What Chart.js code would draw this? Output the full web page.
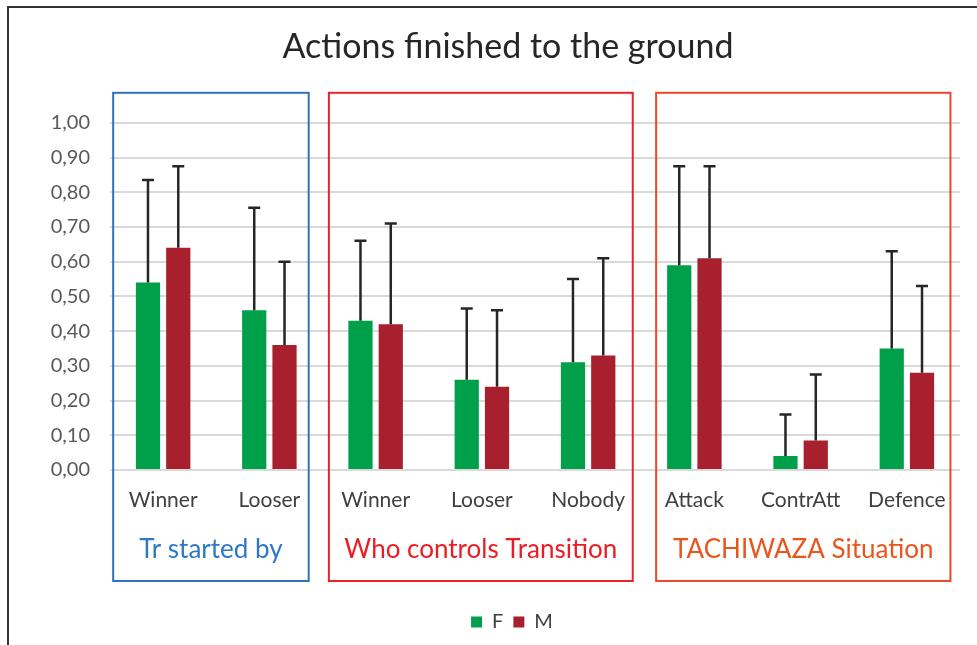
<!DOCTYPE html>
<html>
<head>
<meta charset="utf-8">
<script src="https://cdn.jsdelivr.net/npm/chart.js@4.4.1/dist/chart.umd.min.js"></script>
<style>
  html, body { margin: 0; padding: 0; background: #fff; }
  #wrap { position: relative; width: 977px; height: 645px; }
  #frame { position: absolute; left: 7px; top: 6px; right: 0; bottom: 0;
           border-left: 2px solid #333; border-top: 2px solid #333; pointer-events: none; }
</style>
</head>
<body>
<div id="wrap">
  <canvas id="barChart" width="977" height="645"></canvas>
  <div id="frame"></div>
</div>
<script>
// categories and series
var categories = ['Winner', 'Looser', 'Winner', 'Looser', 'Nobody', 'Attack', 'ContrAtt', 'Defence'];
var fValues = [0.54, 0.46, 0.43, 0.26, 0.31, 0.59, 0.04, 0.35];
var mValues = [0.64, 0.36, 0.42, 0.24, 0.33, 0.61, 0.085, 0.28];
// upper error (standard deviation)
var fErr = [0.295, 0.295, 0.23, 0.205, 0.24, 0.285, 0.12, 0.28];
var mErr = [0.235, 0.24, 0.29, 0.22, 0.28, 0.265, 0.19, 0.25];

// groups of categories (first index, last index)
var groupNames = ['Tr started by', 'Who controls Transition', 'TACHIWAZA Situation'];
var groupFirst = [0, 2, 5];
var groupLast = [1, 4, 7];

var FONT = 'Lato';
var green = '#00A04B';
var red = '#A81F2D';

var groupStyle = [
    { color: '#2E72BE', text: '#2E78C8', left: 0.47, right: 0.37 },
    { color: '#EC2228', text: '#EC1C24', left: 0.44, right: 0.42 },
    { color: '#E8492A', text: '#E8561E', left: 0.36, right: 0.41 }
];

var errorBars = {
    id: 'errorBars',
    afterDatasetsDraw: function (chart) {
        var ctx = chart.ctx;
        var y = chart.scales.y;
        var errs = [fErr, mErr];
        ctx.save();
        ctx.strokeStyle = '#262626';
        ctx.lineWidth = 2.5;
        chart.data.datasets.forEach(function (ds, di) {
            var meta = chart.getDatasetMeta(di);
            meta.data.forEach(function (bar, i) {
                var top = y.getPixelForValue(ds.data[i] + errs[di][i]);
                ctx.beginPath();
                ctx.moveTo(bar.x, bar.y);
                ctx.lineTo(bar.x, top);
                ctx.moveTo(bar.x - 6, top);
                ctx.lineTo(bar.x + 6, top);
                ctx.stroke();
            });
        });
        ctx.restore();
    }
};

var groupBoxes = {
    id: 'groupBoxes',
    afterLayout: function (chart) {
        // title and legend sit a bit right of the page centre in the original
        chart.legend.left += 27;
        chart.legend.right += 27;
        chart.titleBlock.left += 23;
        chart.titleBlock.right += 23;
    },
    afterDraw: function (chart) {
        var ctx = chart.ctx;
        var x = chart.scales.x;
        var y = chart.scales.y;
        var step = x.getPixelForValue(1) - x.getPixelForValue(0);
        var top = y.getPixelForValue(1) - 30;
        var bottom = chart.chartArea.bottom + 111;
        ctx.save();
        groupNames.forEach(function (name, g) {
            var st = groupStyle[g];
            var l = x.getPixelForValue(groupFirst[g]) - st.left * step;
            var r = x.getPixelForValue(groupLast[g]) + st.right * step;
            ctx.strokeStyle = st.color;
            ctx.lineWidth = 2;
            ctx.strokeRect(l, top, r - l, bottom - top);
            ctx.fillStyle = st.text;
            ctx.font = '26px ' + FONT;
            ctx.textAlign = 'center';
            ctx.textBaseline = 'middle';
            ctx.fillText(name, (l + r) / 2, chart.chartArea.bottom + 80);
        });
        ctx.restore();
    }
};

var ctx = document.getElementById('barChart').getContext('2d');
var myChart = new Chart(ctx, {
    type: 'bar',
    data: {
        labels: categories,
        datasets: [{
            label: 'F',
            data: fValues,
            backgroundColor: green,
            categoryPercentage: 0.57,
            barPercentage: 0.8
        }, {
            label: 'M',
            data: mValues,
            backgroundColor: red,
            categoryPercentage: 0.57,
            barPercentage: 0.8
        }]
    },
    options: {
        responsive: false,
        animation: false,
        layout: {
            padding: { left: 10, right: 17, top: 0, bottom: 3 }
        },
        scales: {
            y: {
                min: 0,
                max: 1,
                ticks: {
                    stepSize: 0.1,
                    padding: 20,
                    color: '#595959',
                    font: { family: FONT, size: 20 },
                    callback: function (v) { return v.toFixed(2).replace('.', ','); }
                },
                grid: { color: '#D9D9D9', lineWidth: 2, drawTicks: false },
                border: { display: false },
                afterFit: function (s) { s.width = 100; }
            },
            x: {
                ticks: {
                    padding: 18,
                    color: '#404040',
                    font: { family: FONT, size: 21 }
                },
                grid: { display: false, drawTicks: false },
                border: { display: false },
                afterFit: function (s) { s.height = 132; }
            }
        },
        plugins: {
            title: {
                display: true,
                text: 'Actions finished to the ground',
                color: '#262626',
                font: { family: FONT, size: 34, weight: 'normal' },
                padding: { top: 27, bottom: 55 }
            },
            legend: {
                position: 'bottom',
                labels: {
                    boxWidth: 11,
                    boxHeight: 11,
                    padding: 10,
                    color: '#404040',
                    font: { family: FONT, size: 20 }
                }
            },
            tooltip: { enabled: false }
        }
    },
    plugins: [errorBars, groupBoxes]
});
</script>
</body>
</html>
